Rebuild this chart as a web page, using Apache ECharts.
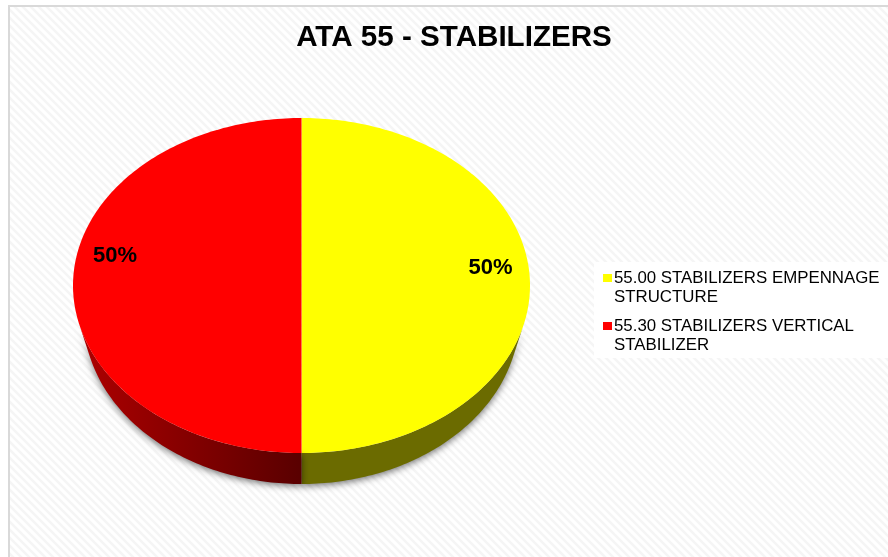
<!DOCTYPE html>
<html>
<head>
<meta charset="utf-8">
<title>ATA 55 - STABILIZERS</title>
<style>
html, body { margin: 0; padding: 0; background: #fff; }
#main { width: 888px; height: 557px; }
</style>
<script src="https://cdn.jsdelivr.net/npm/echarts@6/dist/echarts.min.js"></script>
</head>
<body>
<div id="main"></div>
<script>
var chartTitle = 'ATA 55 - STABILIZERS';
var categories = ['55.00 STABILIZERS EMPENNAGE\nSTRUCTURE', '55.30 STABILIZERS VERTICAL\nSTABILIZER'];
var values = [50, 50];

var topColors = ['#ffff00', '#ff0000'];
var wallColors = [
    ['#6b6b00', '#6b6b00'],
    ['#ad0000', '#590000']
];

// the pie is an ellipse with a side wall, a plain pie series can not do that
// the lower edge is narrower than the top face, the wall tapers out at the sides
var cx = 301.5, cy = 285.5, rx = 228.5, ry = 167.5, rxLow = 218, depth = 31;
var wallInset = 0.25;
var labelPos = [[490.5, 268], [115, 256]];

var total = 0;
for (var i = 0; i < values.length; i++) {
    total += values[i];
}

function arcPoints(from, to, radiusX, dy) {
    var pts = [];
    var n = Math.max(2, Math.ceil(Math.abs(to - from) * 180 / Math.PI));
    for (var k = 0; k <= n; k++) {
        var a = from + (to - from) * k / n;
        pts.push([cx + radiusX * Math.cos(a), cy + ry * Math.sin(a) + dy]);
    }
    return pts;
}

function renderSlice(params, api) {
    var idx = params.seriesIndex;
    var before = 0;
    for (var j = 0; j < idx; j++) {
        before += values[j];
    }
    var a0 = -Math.PI / 2 + before / total * Math.PI * 2;
    var a1 = a0 + api.value(0) / total * Math.PI * 2;

    var children = [];
    // only the part facing the viewer has a wall
    var w0 = Math.max(a0, wallInset), w1 = Math.min(a1, Math.PI - wallInset);
    if (w1 > w0) {
        var wall = arcPoints(w0, w1, rx, 0).concat(arcPoints(w1, w0, rxLow, depth));
        children.push({
            type: 'polygon',
            shape: { points: wall },
            style: {
                fill: new echarts.graphic.LinearGradient(0, 0, 1, 0, [
                    { offset: 0, color: wallColors[idx][0] },
                    { offset: 1, color: wallColors[idx][1] }
                ]),
                shadowBlur: 7,
                shadowColor: 'rgba(0,0,0,0.55)',
                shadowOffsetY: 2
            }
        });
    }
    children.push({
        type: 'polygon',
        shape: { points: [[cx, cy]].concat(arcPoints(a0, a1, rx, 0)) },
        style: { fill: topColors[idx] }
    });
    children.push({
        type: 'text',
        z2: 10,
        style: {
            text: Math.round(api.value(0) / total * 100) + '%',
            x: labelPos[idx][0],
            y: labelPos[idx][1],
            align: 'center',
            verticalAlign: 'middle',
            font: 'bold 22px "Liberation Sans", Arial, sans-serif',
            fill: '#000'
        }
    });
    return { type: 'group', children: children };
}

// faint diagonal stripes of the chart area
var tile = document.createElement('canvas');
tile.width = 8;
tile.height = 8;
var tc = tile.getContext('2d');
tc.fillStyle = '#ffffff';
tc.fillRect(0, 0, 8, 8);
tc.strokeStyle = '#f5f5f5';
tc.lineWidth = 2.6;
tc.beginPath();
tc.moveTo(-2, -2); tc.lineTo(10, 10);
tc.moveTo(-6, 2); tc.lineTo(6, 14);
tc.moveTo(2, -6); tc.lineTo(14, 6);
tc.stroke();

var seriesList = [];
for (var s = 0; s < categories.length; s++) {
    seriesList.push({
        type: 'custom',
        name: categories[s],
        coordinateSystem: 'none',
        itemStyle: { color: topColors[s] },
        silent: true,
        data: [[values[s]]],
        renderItem: renderSlice
    });
}

var myChart = echarts.init(document.getElementById('main'));
var option = {
    animation: false,
    backgroundColor: '#fff',
    graphic: [{
        type: 'rect',
        z: -10,
        shape: { x: 9, y: 6, width: 900, height: 570 },
        style: { fill: { image: tile, repeat: 'repeat' }, stroke: '#d9d9d9', lineWidth: 2 }
    }],
    title: {
        text: chartTitle,
        left: 454,
        top: 23,
        textAlign: 'center',
        padding: 0,
        textStyle: {
            fontFamily: '"Liberation Sans", Arial, sans-serif',
            fontWeight: 'bold',
            fontSize: 29.6,
            color: '#000'
        }
    },
    legend: {
        orient: 'vertical',
        left: 594,
        top: 262,
        padding: [7, 30, 3, 9],
        backgroundColor: '#ffffff',
        itemWidth: 9,
        itemHeight: 38,
        itemGap: 10,
        selectedMode: false,
        // square sits beside the first text line, the empty moves keep the full item height
        icon: 'path://M0 0h0M9 38h0M0 5h9v8h-9z',
        textStyle: {
            fontFamily: '"Liberation Sans", Arial, sans-serif',
            fontSize: 16.85,
            lineHeight: 19,
            color: '#000',
            padding: [0, 0, 0, -3]
        },
        data: categories
    },
    series: seriesList
};
myChart.setOption(option);
</script>
</body>
</html>
